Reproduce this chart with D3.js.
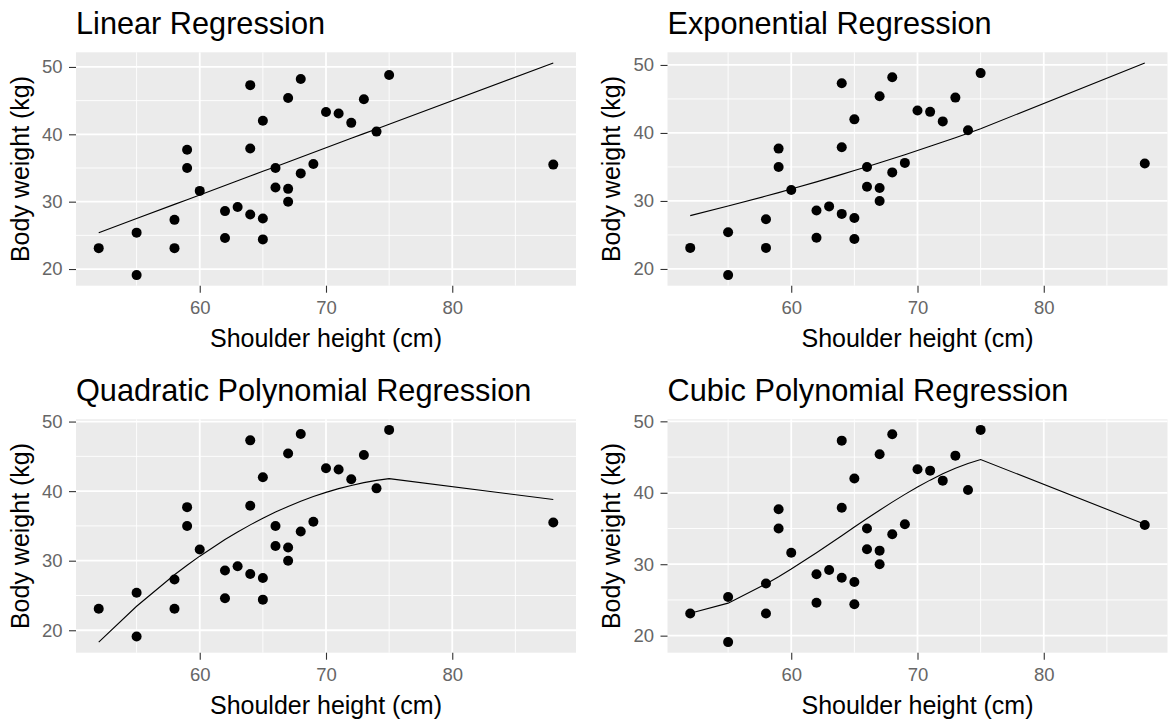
<!DOCTYPE html>
<html>
<head>
<meta charset="utf-8">
<script src="https://cdn.jsdelivr.net/npm/d3@7"></script>
<style>
  html, body { margin: 0; padding: 0; background: #fff; }
  svg { display: block; font-family: "Liberation Sans", Arial, sans-serif; }
</style>
</head>
<body>
<svg id="chart" width="1168" height="722"></svg>
<script>
// ---- data ----
const shoulderHeight = [52,55,55,58,58,59,59,60,62,62,63,64,64,64,65,65,65,66,66,67,67,67,68,68,69,70,71,72,73,74,75,88];
const bodyWeight = [23.1,25.4,19.1,27.3,23.1,37.7,35.0,31.6,28.6,24.6,29.2,47.3,37.9,28.1,42.0,27.5,24.4,35.0,32.1,45.4,31.9,30.0,48.2,34.2,35.6,43.3,43.1,41.7,45.2,40.4,48.8,35.5];

const fitHeights = [52,55,58,59,60,62,63,64,65,66,67,68,69,70,71,72,73,74,75,88];
const linearFit = [25.40,27.50,29.60,30.30,31.00,32.40,33.10,33.80,34.50,35.20,35.90,36.60,37.30,38.00,38.70,39.40,40.10,40.80,41.50,50.60];
const exponentialFit = [27.84,29.25,30.72,31.23,31.75,32.81,33.36,33.91,34.47,35.04,35.62,36.21,36.81,37.42,38.04,38.67,39.31,39.96,40.62,50.30];
const quadraticFit = [18.30,23.45,27.98,29.35,30.65,33.04,34.13,35.15,36.10,36.99,37.80,38.54,39.22,39.82,40.36,40.82,41.22,41.54,41.80,38.80];
const cubicFit = [23.15,24.55,27.24,28.25,29.32,31.61,32.79,33.99,35.20,36.39,37.56,38.69,39.78,40.81,41.77,42.65,43.43,44.10,44.66,35.60];

const panelTitles = ["Linear Regression","Exponential Regression","Quadratic Polynomial Regression","Cubic Polynomial Regression"];
const xTicks = [60,70,80];
const yTicks = [20,30,40,50];
const xLabel = "Shoulder height (cm)";
const yLabel = "Body weight (kg)";

// ---- layout ----
const svg = d3.select("#chart");
const colOffsets = [0, 591.5];
const rowOffsets = [0, 367];
const P = {left: 76, right: 576, top: 52.3, bottom: 285.7};
const fits = [linearFit, exponentialFit, quadraticFit, cubicFit];

function expand(ext) {
  const r = ext[1] - ext[0];
  return [ext[0] - 0.05 * r, ext[1] + 0.05 * r];
}

function drawPanel(i) {
  const g = svg.append("g")
    .attr("transform", `translate(${colOffsets[i % 2]},${rowOffsets[Math.floor(i / 2)]})`);
  const fit = fits[i];

  const xExt = d3.extent(shoulderHeight.concat(fitHeights));
  const yExt = d3.extent(bodyWeight.concat(fit));
  const x = d3.scaleLinear().domain(expand(xExt)).range([P.left, P.right]);
  const y = d3.scaleLinear().domain(expand(yExt)).range([P.bottom, P.top]);

  // panel background
  g.append("rect")
    .attr("x", P.left).attr("y", P.top)
    .attr("width", P.right - P.left).attr("height", P.bottom - P.top)
    .attr("fill", "#EBEBEB");

  // minor grid
  const xMinor = [];
  for (let k = 0; k < xTicks.length + 1; k++) {
    const v = (k === 0 ? xTicks[0] - 5 : xTicks[k - 1] + 5);
    if (v > x.domain()[0] && v < x.domain()[1]) xMinor.push(v);
  }
  const yMinor = [];
  for (let k = 0; k < yTicks.length + 1; k++) {
    const v = (k === 0 ? yTicks[0] - 5 : yTicks[k - 1] + 5);
    if (v > y.domain()[0] && v < y.domain()[1]) yMinor.push(v);
  }
  g.selectAll(".xminor").data(xMinor).join("line")
    .attr("x1", d => x(d)).attr("x2", d => x(d))
    .attr("y1", P.top).attr("y2", P.bottom)
    .attr("stroke", "#fff").attr("stroke-width", 0.9);
  g.selectAll(".yminor").data(yMinor).join("line")
    .attr("y1", d => y(d)).attr("y2", d => y(d))
    .attr("x1", P.left).attr("x2", P.right)
    .attr("stroke", "#fff").attr("stroke-width", 0.9);
  // major grid
  g.selectAll(".xmajor").data(xTicks).join("line")
    .attr("x1", d => x(d)).attr("x2", d => x(d))
    .attr("y1", P.top).attr("y2", P.bottom)
    .attr("stroke", "#fff").attr("stroke-width", 1.8);
  g.selectAll(".ymajor").data(yTicks).join("line")
    .attr("y1", d => y(d)).attr("y2", d => y(d))
    .attr("x1", P.left).attr("x2", P.right)
    .attr("stroke", "#fff").attr("stroke-width", 1.8);

  // axes
  const xAxis = g.append("g")
    .attr("transform", `translate(0,${P.bottom})`)
    .call(d3.axisBottom(x).tickValues(xTicks).tickSize(7).tickPadding(8.5).tickFormat(d3.format("d")));
  const yAxis = g.append("g")
    .attr("transform", `translate(${P.left},0)`)
    .call(d3.axisLeft(y).tickValues(yTicks).tickSize(7).tickPadding(6.5).tickFormat(d3.format("d")));
  [xAxis, yAxis].forEach(a => {
    a.select(".domain").remove();
    a.selectAll(".tick line").attr("stroke", "#333").attr("stroke-width", 1.1);
    a.selectAll(".tick text").attr("fill", "#666").attr("font-size", 18.5)
      .attr("font-family", "Liberation Sans, Arial, sans-serif");
  });

  // fitted line
  const line = d3.line().x((d, k) => x(fitHeights[k])).y(d => y(d));
  g.append("path")
    .datum(fit)
    .attr("d", line)
    .attr("fill", "none").attr("stroke", "#000").attr("stroke-width", 1.1);

  // points
  g.selectAll(".pt").data(shoulderHeight).join("circle")
    .attr("cx", d => x(d))
    .attr("cy", (d, k) => y(bodyWeight[k]))
    .attr("r", 5)
    .attr("fill", "#000");

  // title
  g.append("text")
    .attr("x", P.left).attr("y", 34)
    .attr("font-size", 30.7).attr("fill", "#000")
    .text(panelTitles[i]);
  // x label
  g.append("text")
    .attr("x", (P.left + P.right) / 2).attr("y", 347)
    .attr("text-anchor", "middle")
    .attr("font-size", 25).attr("fill", "#000")
    .text(xLabel);
  // y label
  g.append("text")
    .attr("transform", `translate(28.5,${(P.top + P.bottom) / 2}) rotate(-90)`)
    .attr("text-anchor", "middle")
    .attr("font-size", 25).attr("fill", "#000")
    .text(yLabel);
}

for (let i = 0; i < 4; i++) drawPanel(i);
</script>
</body>
</html>
